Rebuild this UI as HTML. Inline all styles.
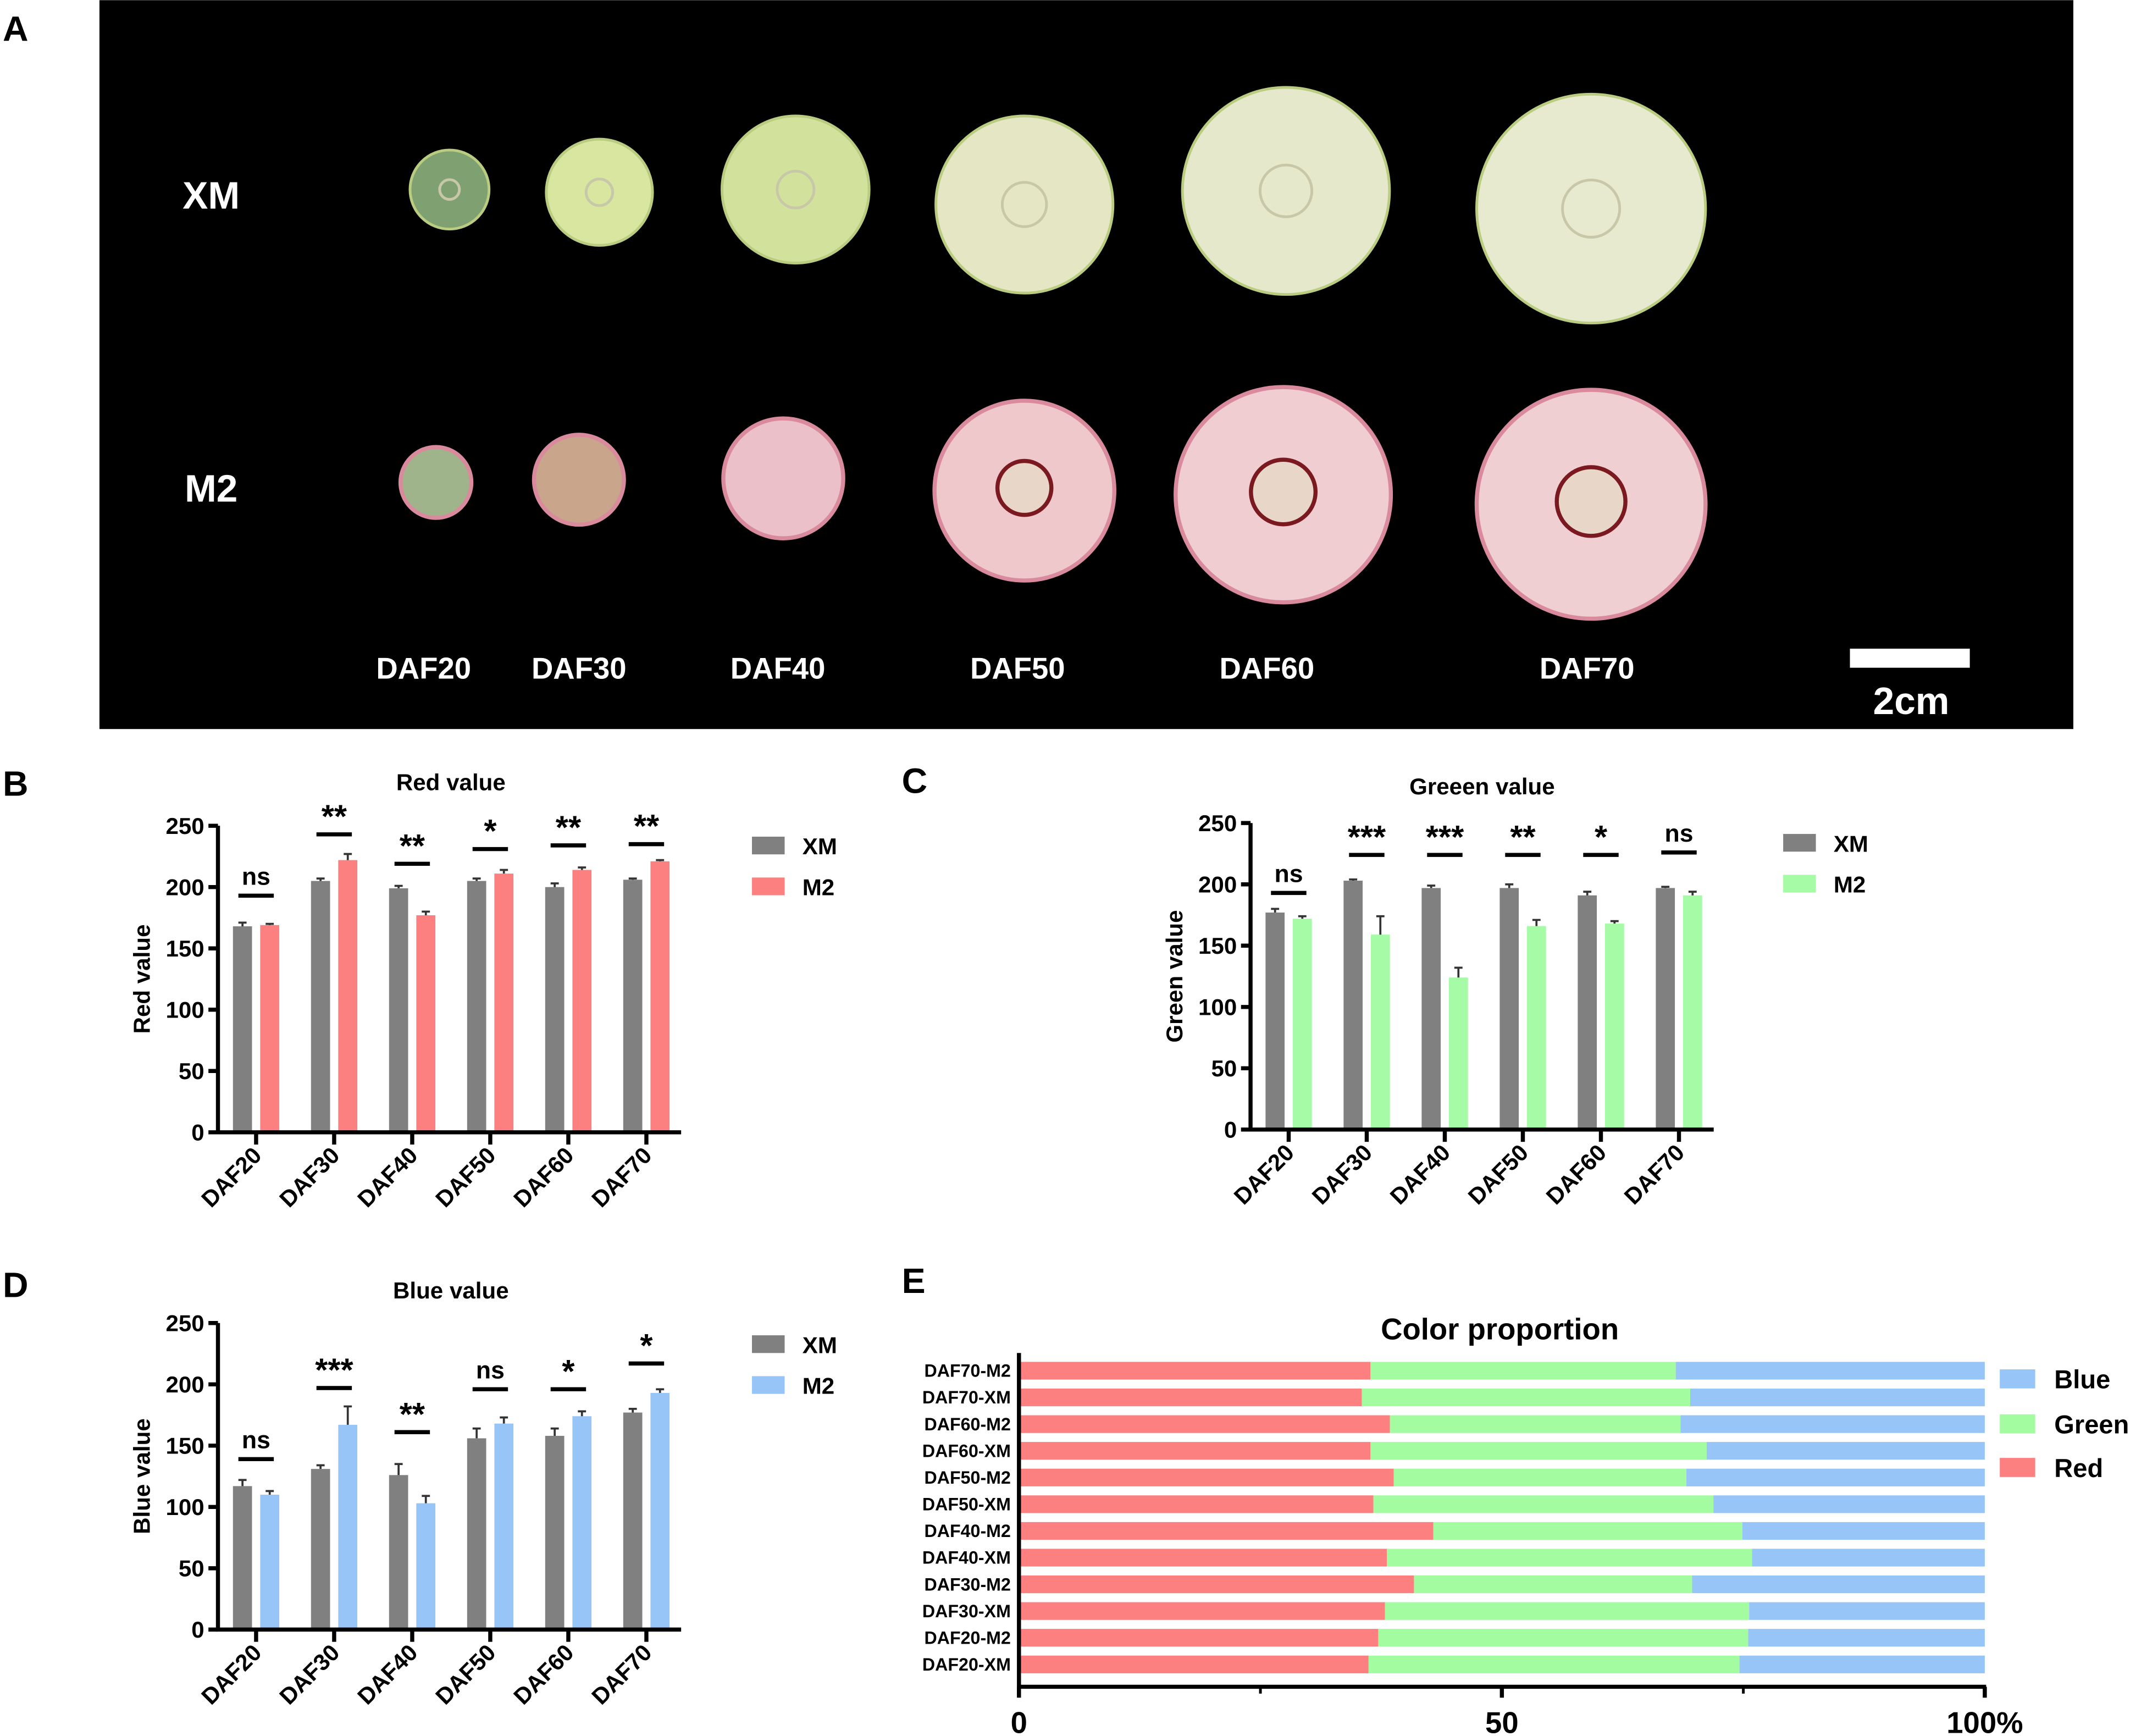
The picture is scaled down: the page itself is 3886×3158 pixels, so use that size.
<!DOCTYPE html>
<html><head><meta charset="utf-8"><style>
html,body{margin:0;padding:0;background:#fff;}
svg{display:block;}
text{font-family:"Liberation Sans Narrow","Liberation Sans",sans-serif;font-weight:bold;}
</style></head><body>
<svg id="fig" width="3886" height="3158" viewBox="0 0 1568 1274" xmlns="http://www.w3.org/2000/svg">
<rect x="0" y="0" width="1568" height="1274" fill="#fff"/>
<g id="panelA">
<rect x="73" y="0" width="1449" height="535" fill="#000"/>
</g>
<text x="2" y="30" font-size="26" font-family="Liberation Sans">A</text>
<text x="2" y="584" font-size="26">B</text>
<text x="662" y="582" font-size="26">C</text>
<text x="2" y="952" font-size="26">D</text>
<text x="662" y="949" font-size="26">E</text>
<g id="chartB"></g>
<g id="chartC"></g>
<g id="chartD"></g>
<g id="chartE"></g>
</svg>
<script>
const NS="http://www.w3.org/2000/svg";
function mk(p,tag,a,txt){const e=document.createElementNS(NS,tag);for(const k in a)e.setAttribute(k,a[k]);if(txt!==undefined)e.textContent=txt;p.appendChild(e);return e;}

const fruitStages=["DAF20","DAF30","DAF40","DAF50","DAF60","DAF70"];
const A=document.getElementById('panelA');
const xmFruit=[[330,139,29],[440,141,39],[584,139,54],[752,150,65],[944,140,76],[1168,153,84]];
const m2Fruit=[[320,354,26],[425,352,33],[575,351,44],[752,360,66],[942,363,79],[1168,370,84]];
const xmCol=["#7fa070","#d8e6a0","#d2e29c","#e4e6c4","#e6e8cc","#e8ead0"];
const m2Col=["#9fb48a","#c9a58c","#ecc0c8","#efc8cc","#efcdd0","#f0cfd2"];
xmFruit.forEach((f,i)=>{const c=mk(A,'circle',{cx:f[0],cy:f[1],r:f[2],fill:xmCol[i],stroke:"#b9cc80","stroke-width":2});


const k=mk(A,'circle',{cx:f[0],cy:f[1],r:f[2]*0.25,fill:"none",stroke:"#c8c8a8","stroke-width":2});});
m2Fruit.forEach((f,i)=>{const c=mk(A,'circle',{cx:f[0],cy:f[1],r:f[2],fill:m2Col[i],stroke:"#d98a9c","stroke-width":3});


if(i>=3){const k=mk(A,'circle',{cx:f[0],cy:f[1]-2,r:f[2]*0.3,fill:"#e8d6c8",stroke:"#7a1a20","stroke-width":3});}});
let t=mk(A,'text',{x:155,y:153,"font-size":28,fill:"#fff","text-anchor":"middle","font-family":"Liberation Sans"},"XM");
t=mk(A,'text',{x:155,y:368,"font-size":28,fill:"#fff","text-anchor":"middle","font-family":"Liberation Sans"},"M2");
const stageX=[311,425,571,747,930,1165];
fruitStages.forEach((s,i)=>{const e=mk(A,'text',{x:stageX[i],y:498,"font-size":22,fill:"#fff","text-anchor":"middle","font-family":"Liberation Sans"},s);
});
t=mk(A,'rect',{x:1358,y:476,width:88,height:14,fill:"#fff"});
t=mk(A,'text',{x:1403,y:524,"font-size":28,fill:"#fff","text-anchor":"middle","font-family":"Liberation Sans"},"2cm");

const categories=["DAF20","DAF30","DAF40","DAF50","DAF60","DAF70"];
const yTicks=[0,50,100,150,200,250];
const redXM=[168,205,199,205,200,206];
const redXMerr=[3,2,2,2,3,1];
const redM2=[169,222,177,211,214,221];
const redM2err=[1,5,3,3,2,1];
const redSig=["ns","**","**","*","**","**"];
const redSigY=[193,243,219,231,234,235];
const greenXM=[177,203,197,197,191,197];
const greenXMerr=[3,1,2,3,3,1];
const greenM2=[172,159,124,166,168,191];
const greenM2err=[2,15,8,5,2,3];
const greenSig=["ns","***","***","**","*","ns"];
const greenSigY=[193,224,224,224,224,226];
const blueXM=[117,131,126,156,158,177];
const blueXMerr=[5,3,9,8,6,3];
const blueM2=[110,167,103,168,174,193];
const blueM2err=[3,15,6,5,4,3];
const blueSig=["ns","***","**","ns","*","*"];
const blueSigY=[139,197,161,196,196,217];

function barChart(id,g,o){
  const G=document.getElementById(id);
  const y=v=>o.y0-(v/250)*(o.y0-o.y250);
  const cx=i=>o.x0+28+i*57.3;
  let e=mk(G,'text',{x:o.tx,y:o.ty,"font-size":17,"text-anchor":"middle","font-family":"Liberation Sans"},o.title);
  
  e=mk(G,'text',{transform:`translate(${o.x0-50},${(o.y0+o.y250)/2}) rotate(-90)`,"font-size":17,"text-anchor":"middle","font-family":"Liberation Sans"},o.ytitle);
  
  g.xm.forEach((v,i)=>{
    const xc=cx(i)-10;
    let b=mk(G,'rect',{x:xc-7,y:y(v),width:14,height:y(0)-y(v),fill:"#808080"});
    
    let er=mk(G,'path',{d:`M${xc} ${y(v)} V${y(v+g.xmErr[i])} M${xc-3} ${y(v+g.xmErr[i])} H${xc+3}`,stroke:"#333","stroke-width":1.5,fill:"none"});
    
  });
  g.m2.forEach((v,i)=>{
    const xc=cx(i)+10;
    let b=mk(G,'rect',{x:xc-7,y:y(v),width:14,height:y(0)-y(v),fill:o.color});
    
    let er=mk(G,'path',{d:`M${xc} ${y(v)} V${y(v+g.m2Err[i])} M${xc-3} ${y(v+g.m2Err[i])} H${xc+3}`,stroke:"#333","stroke-width":1.5,fill:"none"});
    
  });
  g.sig.forEach((s,i)=>{
    const ly=y(g.sigY[i]);
    let l=mk(G,'line',{x1:cx(i)-13,x2:cx(i)+13,y1:ly,y2:ly,stroke:"#000","stroke-width":3});
    
    const isStar=s!=="ns";
    let tx=mk(G,'text',{x:cx(i),y:isStar?ly-5:ly-8,"font-size":isStar?24:18,"text-anchor":"middle","font-weight":isStar?"bold":"normal"},s);
    
  });
  let ax=mk(G,'path',{d:`M${o.x0} ${o.y250} V${o.y0+1.5} M${o.x0-1.5} ${o.y0} H${o.x1}`,stroke:"#000","stroke-width":3,fill:"none"});
  
  yTicks.forEach(v=>{
    let tk=mk(G,'line',{x1:o.x0-7,x2:o.x0,y1:y(v),y2:y(v),stroke:"#000","stroke-width":3});
    let tl=mk(G,'text',{x:o.x0-10,y:y(v)+6,"font-size":17,"text-anchor":"end"},String(v));
  });
  categories.forEach((c,i)=>{
    let tk=mk(G,'line',{x1:cx(i),x2:cx(i),y1:o.y0,y2:o.y0+9,stroke:"#000","stroke-width":3});
    let tl=mk(G,'text',{transform:`translate(${cx(i)+5},${o.y0+18}) rotate(-45)`,"font-size":17,"text-anchor":"end","font-family":"Liberation Sans"},c);
    
  });
  let r1=mk(G,'rect',{x:o.lx,y:o.ly,width:24,height:13,fill:"#808080"});
  let t1=mk(G,'text',{x:o.lx+37,y:o.ly+13,"font-size":17,"font-family":"Liberation Sans"},"XM");
  let r2=mk(G,'rect',{x:o.lx,y:o.ly+30,width:24,height:13,fill:o.color});
  let t2=mk(G,'text',{x:o.lx+37,y:o.ly+43,"font-size":17,"font-family":"Liberation Sans"},"M2");
}
barChart('chartB',{xm:redXM,xmErr:redXMerr,m2:redM2,m2Err:redM2err,sig:redSig,sigY:redSigY},
 {x0:160,x1:500,y0:831,y250:606,color:"#fc8080",title:"Red value",tx:331,ty:580,ytitle:"Red value",lx:552,ly:614});
barChart('chartC',{xm:greenXM,xmErr:greenXMerr,m2:greenM2,m2Err:greenM2err,sig:greenSig,sigY:greenSigY},
 {x0:918,x1:1258,y0:829,y250:604,color:"#a6fba6",title:"Greeen value",tx:1088,ty:583,ytitle:"Green value",lx:1309,ly:612});
barChart('chartD',{xm:blueXM,xmErr:blueXMerr,m2:blueM2,m2Err:blueM2err,sig:blueSig,sigY:blueSigY},
 {x0:160,x1:500,y0:1196,y250:971,color:"#98c5f8",title:"Blue value",tx:331,ty:953,ytitle:"Blue value",lx:552,ly:980});

const rowLabels=["DAF70-M2","DAF70-XM","DAF60-M2","DAF60-XM","DAF50-M2","DAF50-XM","DAF40-M2","DAF40-XM","DAF30-M2","DAF30-XM","DAF20-M2","DAF20-XM"];
const redPct=[36.4,35.5,38.4,36.4,38.8,36.7,42.9,38.1,40.9,37.9,37.2,36.2];
const greenPct=[31.6,34.0,30.1,34.8,30.3,35.2,32.0,37.8,28.8,37.7,38.3,38.4];
const bluePct=[32.0,30.5,31.5,28.8,30.9,28.1,25.1,24.1,30.3,24.4,24.5,25.4];
const xTicksE=[0,50,100];
const xMinorE=[25,75];
(function(){
  const G=document.getElementById('chartE');
  const x=v=>748+v*7.09;
  const ry=i=>1006+i*19.6;
  let e=mk(G,'text',{x:1101,y:983,"font-size":22,"text-anchor":"middle"},"Color proportion");
  rowLabels.forEach((lab,i)=>{
    const yc=ry(i);
    let r=mk(G,'rect',{x:x(0),y:yc-6.5,width:x(redPct[i])-x(0),height:13,fill:"#fc8080"});
    let g=mk(G,'rect',{x:x(redPct[i]),y:yc-6.5,width:x(redPct[i]+greenPct[i])-x(redPct[i]),height:13,fill:"#a4fca0"});
    let b=mk(G,'rect',{x:x(redPct[i]+greenPct[i]),y:yc-6.5,width:x(redPct[i]+greenPct[i]+bluePct[i])-x(redPct[i]+greenPct[i]),height:13,fill:"#98c5f8"});
    let t=mk(G,'text',{x:742,y:yc+4.5,"font-size":13,"text-anchor":"end"},lab);
  });
  let ax=mk(G,'path',{d:`M${x(0)} 993 V1244 M${x(0)} 1238 H${x(100)+1}`,stroke:"#000","stroke-width":3,fill:"none"});
  xTicksE.forEach(v=>{
    let tk=mk(G,'line',{x1:x(v),x2:x(v),y1:1238,y2:1246,stroke:"#000","stroke-width":3});
    let tl=mk(G,'text',{x:x(v),y:1272,"font-size":22,"text-anchor":"middle"},v===100?"100%":String(v));
  });
  xMinorE.forEach(v=>{let tk=mk(G,'line',{x1:x(v),x2:x(v),y1:1238,y2:1243,stroke:"#000","stroke-width":2});});
  const leg=[["Blue","#98c5f8",1005],["Green","#a4fca0",1038],["Red","#fc8080",1070]];
  leg.forEach(l=>{
    let r=mk(G,'rect',{x:1468,y:l[2],width:26,height:14,fill:l[1]});
    let t=mk(G,'text',{x:1508,y:l[2]+14,"font-size":19,"font-family":"Liberation Sans"},l[0]);
  });
})();
</script>
</body></html>
